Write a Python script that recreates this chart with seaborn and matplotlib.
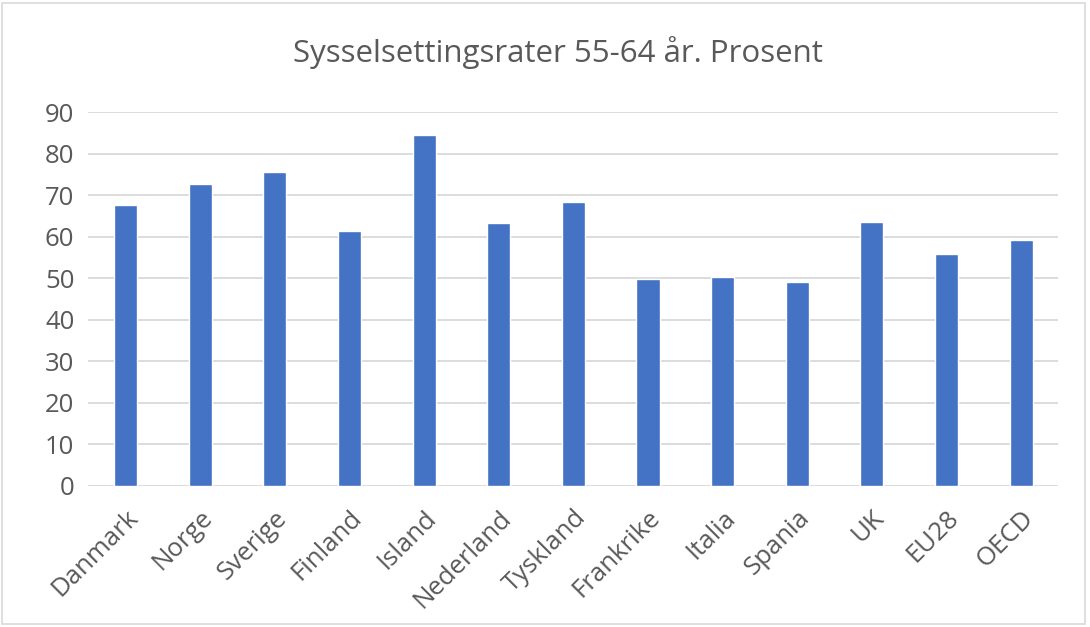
import matplotlib
matplotlib.use("Agg")
import matplotlib.pyplot as plt
import seaborn as sns
import pandas as pd
from matplotlib.patches import Rectangle

countries = ["Danmark", "Norge", "Sverige", "Finland", "Island", "Nederland", "Tyskland",
             "Frankrike", "Italia", "Spania", "UK", "EU28", "OECD"]
rates = [67.7, 72.6, 75.5, 61.3, 84.4, 63.4, 68.5, 49.8, 50.2, 49.0, 63.5, 55.9, 59.2]

title = "Sysselsettingsrater 55-64 år. Prosent"

sns.set_theme(style="white")
plt.rcParams["font.family"] = ["Open Sans", "DejaVu Sans"]

df = pd.DataFrame({"land": countries, "rate": rates})

fig = plt.figure(figsize=(10.9, 6.27), dpi=100)
ax = fig.add_axes([0.081, 0.225, 0.890, 0.596])

sns.barplot(data=df, x="land", y="rate", color="#4472C4", width=0.31,
            saturation=1, ax=ax, zorder=3)

ax.set_ylim(0, 90)
ax.set_yticks(range(0, 91, 10))
ax.set_xlim(-0.5, len(countries) - 0.5)
ax.yaxis.grid(True, color="#d9d9d9", linewidth=1.3, zorder=0)
ax.set_axisbelow(True)
for s in ax.spines.values():
    s.set_visible(False)
ax.set_xlabel("")
ax.set_ylabel("")
ax.tick_params(axis="both", length=0, colors="#595959", labelsize=18.5)
ax.tick_params(axis="y", pad=10)
plt.setp(ax.get_xticklabels(), rotation=45, ha="right", rotation_mode="anchor")
ax.tick_params(axis="x", pad=14)

fig.text(0.512, 0.917, title, ha="center", va="center", fontsize=22.5, color="#595959")

fig.patches.append(Rectangle((0.002, 0.004), 0.993, 0.992, transform=fig.transFigure,
                             fill=False, edgecolor="#d9d9d9", linewidth=1.2))

fig.savefig("out.png", dpi=100)
